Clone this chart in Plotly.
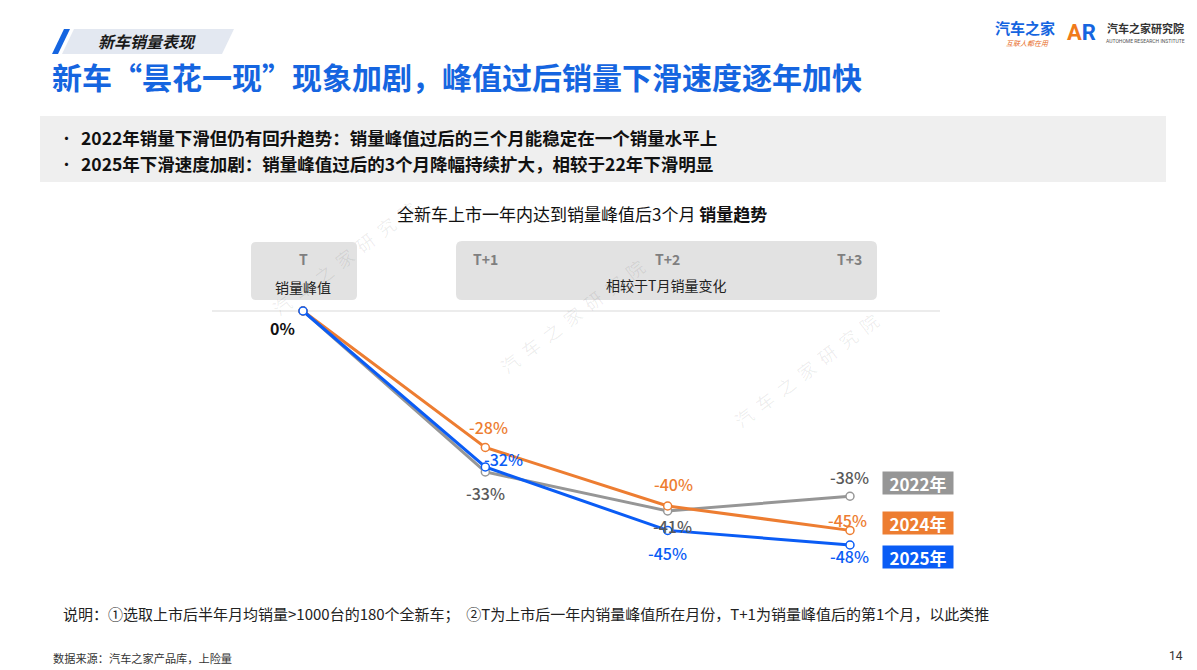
import plotly.graph_objects as go

# ---------------- data ----------------
categories = ["T", "T+1", "T+2", "T+3"]
series_names = ["2022年", "2024年", "2025年"]
values_2022 = [0, -33, -41, -38]
values_2024 = [0, -28, -40, -45]
values_2025 = [0, -32, -45, -48]
series_values = [values_2022, values_2024, values_2025]
colors = ["#969696", "#ED7D31", "#0A5CF5"]
label_colors = ["#595959", "#ED7D31", "#0A5CF5"]
# label offsets (px) per series per point (dx, dy) ; dy positive = up
label_offsets = [
    [None, (0, -21), (5, -15), (0, 19)],
    [None, (3, 21), (6, 22), (-2, 10)],
    [None, (18, 8), (0, -23), (0, -11)],
]

W, H = 1197, 670
OFF = 8  # page body margin offset
FONT = "Noto Sans CJK SC"

# pixel mapping used for axes ranges (screen pixels)
x0px, dxpx = 303.0 - OFF, 182.33
y0px, dypx = 311.0 - OFF, 4.875
xr = [-x0px / dxpx, (W - x0px) / dxpx]
yr = [-(H - y0px) / dypx, y0px / dypx]


def px(x):
    return (x - OFF) / W


def py(y):
    return 1 - (y - OFF) / H


def rounded_path(x1, y1, x2, y2, r):
    a, b, c, d = px(x1), px(x2), py(y1), py(y2)
    rx, ry = r / W, r / H
    return (f"M {a+rx},{c} L {b-rx},{c} Q {b},{c} {b},{c-ry} L {b},{d+ry} Q {b},{d} {b-rx},{d} "
            f"L {a+rx},{d} Q {a},{d} {a},{d+ry} L {a},{c-ry} Q {a},{c} {a+rx},{c} Z")


def txt(x, y, text, size, color, family=FONT, xanchor="center", **kw):
    return dict(xref="paper", yref="paper", x=px(x), y=py(y), text=text, showarrow=False,
                xanchor=xanchor, yanchor="middle", font=dict(family=family, size=size, color=color), **kw)


fig = go.Figure()
shapes = []
annotations = []

# ---------------- background decorations ----------------
shapes.append(dict(type="path", xref="paper", yref="paper",
                   path=f"M {px(74)},{py(29)} L {px(234)},{py(29)} L {px(222)},{py(54)} L {px(62)},{py(54)} Z",
                   fillcolor="#E3E8F1", line=dict(width=0), layer="below"))
shapes.append(dict(type="path", xref="paper", yref="paper",
                   path=f"M {px(64)},{py(29)} L {px(70)},{py(29)} L {px(58)},{py(54)} L {px(52)},{py(54)} Z",
                   fillcolor="#1565E0", line=dict(width=0), layer="below"))
shapes.append(dict(type="rect", xref="paper", yref="paper", x0=px(40), x1=px(1166), y0=py(116), y1=py(182),
                   fillcolor="#EFEFEF", line=dict(width=0), layer="below"))
shapes.append(dict(type="path", xref="paper", yref="paper", path=rounded_path(251, 242, 357, 300, 5),
                   fillcolor="#E2E2E2", line=dict(width=0), layer="below"))
shapes.append(dict(type="path", xref="paper", yref="paper", path=rounded_path(456, 241, 877, 300, 6),
                   fillcolor="#E2E2E2", line=dict(width=0), layer="below"))
shapes.append(dict(type="line", xref="paper", yref="y", x0=px(212), x1=px(940), y0=0, y1=0,
                   line=dict(color="#D9D9D9", width=1), layer="below"))

# watermarks
for cx, cy in [(344, 258), (572, 316), (806, 370)]:
    annotations.append(txt(cx, cy, "汽  车  之  家  研  究  院", 18, "rgba(0,0,0,0.07)", textangle=-37))

# ---------------- series ----------------
for name, vals, col in zip(series_names, series_values, colors):
    fig.add_trace(go.Scatter(
        x=list(range(len(categories))), y=vals, mode="lines+markers", name=name,
        line=dict(color=col, width=3),
        marker=dict(size=8, color="white", line=dict(color=col, width=1.5)),
        showlegend=False, hoverinfo="skip"))

# data labels
for si, vals in enumerate(series_values):
    for i, v in enumerate(vals):
        off = label_offsets[si][i]
        if off is None:
            continue
        annotations.append(dict(x=i, y=v, xref="x", yref="y", text=f"{v}%", showarrow=False,
                                xanchor="center", yanchor="middle",
                                xshift=off[0], yshift=off[1],
                                font=dict(family=FONT, size=16, color=label_colors[si], weight=500)))
annotations.append(dict(x=0, y=values_2022[0], xref="x", yref="y", text=f"<b>{values_2022[0]}%</b>",
                        showarrow=False, xanchor="center", yanchor="middle", xshift=-21, yshift=-17,
                        font=dict(family=FONT, size=16, color="#111111")))

# series tags
for name, col, yc in zip(series_names, colors, [483, 523, 557]):
    annotations.append(txt(918, yc, f"<b>{name}</b>", 17, "white", bgcolor=col, borderpad=0,
                           width=70, height=22))

# category headers
for i, c in enumerate(categories):
    annotations.append(dict(x=i, y=py(259), xref="x", yref="paper", text=f"<b>{c}</b>", showarrow=False,
                            xanchor="center", yanchor="middle",
                            font=dict(family=FONT, size=14, color="#7F7F7F")))
annotations.append(dict(x=0, y=py(287), xref="x", yref="paper", text="销量峰值", showarrow=False,
                        xanchor="center", yanchor="middle",
                        font=dict(family=FONT, size=14, color="#222222")))
annotations.append(txt(666, 285, "相较于T月销量变化", 14, "#222222"))

# ---------------- texts ----------------
annotations += [
    txt(96, 41, "<b><i>新车销量表现</i></b>", 16, "#1a1a1a", xanchor="left"),
    txt(50, 76, "<b>新车“昙花一现”现象加剧，峰值过后销量下滑速度逐年加快</b>", 30, "#1565E0", xanchor="left"),
    txt(57, 137, "•", 15, "#111111", xanchor="left"),
    txt(57, 164, "•", 15, "#111111", xanchor="left"),
    txt(79, 137, "<b>2022年销量下滑但仍有回升趋势：销量峰值过后的三个月能稳定在一个销量水平上</b>", 17.5, "#111111", xanchor="left"),
    txt(79, 164, "<b>2025年下滑速度加剧：销量峰值过后的3个月降幅持续扩大，相较于22年下滑明显</b>", 17.5, "#111111", xanchor="left"),
    txt(582, 213, "全新车上市一年内达到销量峰值后3个月 <b>销量趋势</b>", 17, "#111111"),
    txt(61, 613, "说明：①选取上市后半年月均销量>1000台的180个全新车；  ②T为上市后一年内销量峰值所在月份，T+1为销量峰值后的第1个月，以此类推",
        15, "#222222", xanchor="left"),
    txt(51, 658, "数据来源：汽车之家产品库，上险量", 11.2, "#333333", xanchor="left"),
    txt(1176, 656, "14", 12, "#333333", family="Roboto"),
    # logos
    txt(1025, 27, "<b>汽车之家</b>", 15, "#1565E0"),
    txt(1027, 43, "<i>互联人都在用</i>", 7, "#E86A1C"),
    txt(1081, 33, "<b>A<span style='color:#1565E0'>R</span></b>", 22, "#F07A1A", family="Roboto"),
    txt(1145, 28, "<b>汽车之家研究院</b>", 11, "#333333"),
    txt(1145, 41, "AUTOHOME RESEARCH INSTITUTE", 5, "#555555", family="Roboto"),
]

fig.update_layout(
    width=W, height=H, autosize=False,
    margin=dict(l=0, r=0, t=0, b=0),
    paper_bgcolor="white", plot_bgcolor="rgba(0,0,0,0)",
    xaxis=dict(range=xr, visible=False, showgrid=False, zeroline=False, fixedrange=True),
    yaxis=dict(range=yr, visible=False, showgrid=False, zeroline=False, fixedrange=True),
    shapes=shapes, annotations=annotations,
    font=dict(family=FONT),
)

fig.write_html("out.html", config={"displayModeBar": False})
